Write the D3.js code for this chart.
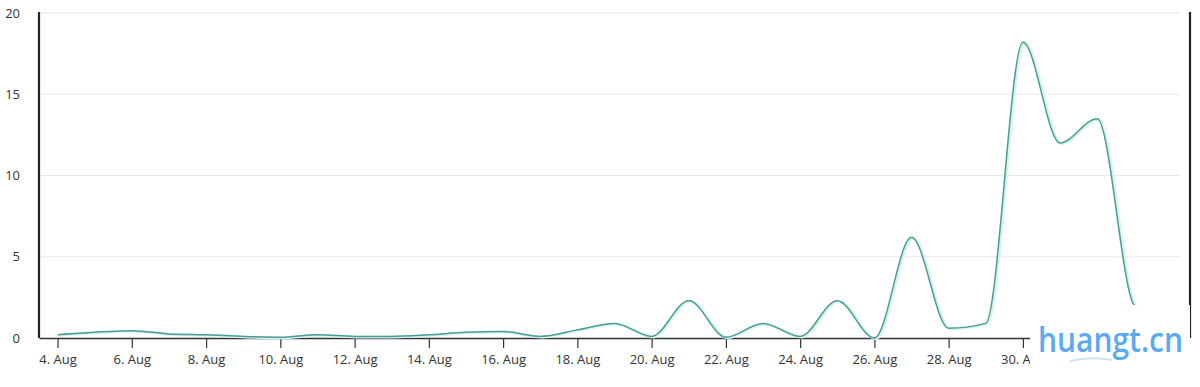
<!DOCTYPE html>
<html>
<head>
<meta charset="UTF-8">
<title>Daily count</title>
<style>
body, html {
	padding: 0;
	margin: 0;
	background: #ffffff;
	overflow: hidden;
	font-family: 'Open Sans', sans-serif;
}
.tick text {
	fill: #333333;
	font-size: 13px;
	font-family: 'Open Sans', sans-serif;
}
</style>
</head>
<body>
<div id="chart"></div>
<script src="https://cdn.jsdelivr.net/npm/d3@7"></script>
<script>
// one value per day, 4 Aug .. 3 Sep
var startDay = new Date(2019, 7, 4);
var values = [0.2, 0.35, 0.45, 0.25, 0.2, 0.1, 0.05, 0.2, 0.1, 0.1,
	0.2, 0.35, 0.4, 0.1, 0.5, 0.9, 0.1, 2.3, 0.05, 0.9,
	0.1, 2.3, 0.0, 6.2, 0.6, 0.9, 18.2, 12.0, 13.5, 2.0, 0.6];
var yTicks = [0, 5, 10, 15, 20];
// ticks every second day; the ones after 30 Aug sit under the watermark
var lastTick = new Date(2019, 7, 30);

var width = 1200;
var height = 387;

var data = values.map(function(v, i) {return {date: d3.timeDay.offset(startDay, i), value: v}});

var x = d3.scaleTime()
	.domain([d3.timeHour.offset(startDay, -12), d3.timeHour.offset(d3.timeDay.offset(startDay, values.length - 1), 12)])
	.range([39, 1190]);
var y = d3.scaleLinear().domain([0, 20]).range([338, 13]);

var svg = d3.select("#chart").append("svg").attr("width", width).attr("height", height);

// the watermark box cuts the axis on the right
svg.append("clipPath").attr("id", "axisclip").append("rect")
	.attr("x", 0).attr("y", -5).attr("width", 1030).attr("height", 60);

// grid
svg.append("g").selectAll("line").data(yTicks.slice(1)).enter().append("line")
	.attr("x1", 39).attr("x2", 1180)
	.attr("y1", function(d) {return y(d)}).attr("y2", function(d) {return y(d)})
	.attr("stroke", "#e8e8e8").attr("stroke-width", 1);

// y axis labels
var yAxis = svg.append("g").attr("transform", "translate(20,0)")
	.call(d3.axisLeft(y).tickValues(yTicks).tickSize(0).tickPadding(0));
yAxis.select(".domain").remove();

// x axis
var xTicks = d3.timeDay.range(startDay, d3.timeDay.offset(lastTick, 1), 2);
var xAxis = svg.append("g").attr("transform", "translate(0,338)").attr("clip-path", "url(#axisclip)")
	.call(d3.axisBottom(x).tickValues(xTicks).tickFormat(d3.timeFormat("%-d. %b")).tickSize(10).tickSizeOuter(0).tickPadding(7));
xAxis.select(".domain").attr("stroke", "#333333").attr("stroke-width", 1.5);
xAxis.selectAll(".tick line").attr("stroke", "#333333").attr("stroke-width", 1.2);

// side lines
svg.append("line").attr("x1", 39).attr("x2", 39).attr("y1", 12).attr("y2", 338)
	.attr("stroke", "#222222").attr("stroke-width", 2.2);
svg.append("line").attr("x1", 1190).attr("x2", 1190).attr("y1", 12).attr("y2", 338)
	.attr("stroke", "#222222").attr("stroke-width", 2.2);

// series
var line = d3.line()
	.x(function(d) {return x(d.date)})
	.y(function(d) {return y(d.value)})
	.curve(d3.curveMonotoneX);

svg.append("path").datum(data).attr("d", line).attr("transform", "translate(1.5,0.5)")
	.attr("fill", "none").attr("stroke", "#d6f5f1").attr("stroke-width", 3);
svg.append("path").datum(data).attr("d", line)
	.attr("fill", "none").attr("stroke", "#4a9c95").attr("stroke-width", 1.5);

// watermark
var wm = svg.append("g");
wm.append("rect").attr("x", 1030).attr("y", 305).attr("width", 160).attr("height", 70).attr("fill", "#ffffff");
wm.append("path").attr("d", "M1070,361 Q1090,356 1112,360").attr("fill", "none").attr("stroke", "#cfe3f7").attr("stroke-width", 2);
wm.append("text").attr("x", 1038).attr("y", 352).attr("fill", "#5aaaf0")
	.attr("textLength", 145).attr("lengthAdjust", "spacingAndGlyphs")
	.style("font-family", "'Open Sans', sans-serif").style("font-weight", "600").style("font-size", "35px")
	.text("huangt.cn");
</script>
</body>
</html>
